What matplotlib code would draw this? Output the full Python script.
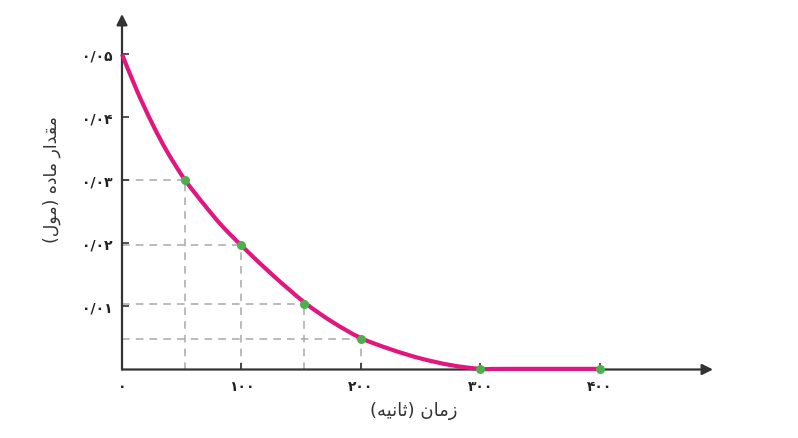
import matplotlib.pyplot as plt
from matplotlib.path import Path
from matplotlib.patches import PathPatch

# curve (time in s, amount in mol)
curve_t = [0, 12.6, 25.1, 37.7, 52.7, 69.5, 83.7, 100.4, 125.5, 153.1, 176.6, 200,
           225.1, 250.2, 275.3, 300, 320, 400]
curve_n = [0.05, 0.0442, 0.0391, 0.0346, 0.0301, 0.0260, 0.0228, 0.0196, 0.0151,
           0.0106, 0.0075, 0.0050, 0.0032, 0.00175, 0.0007, 0.0001, 0.0001, 0.0001]

# marked points
pt_t = [53, 100, 152.5, 200, 300, 400]
pt_n = [0.030, 0.0198, 0.0104, 0.0048, 0.0001, 0.0001]

# ticks
xticks = [0, 100, 200, 300, 400]
xtick_labels = ['۰', '۱۰۰', '۲۰۰', '۳۰۰', '۴۰۰']
yticks = [0.01, 0.02, 0.03, 0.04, 0.05]
ytick_labels = ['۰/۰۱', '۰/۰۲', '۰/۰۳', '۰/۰۴', '۰/۰۵']

# axis titles, already shaped and in visual order (matplotlib does no RTL shaping)
xlabel = '(\uFEEA\uFBFF\uFEE7\uFE8E\uFE9B) \uFEE5\uFE8E\uFEE3\uFEAF'   # زمان (ثانیه)
ylabel = ('(\uFEDD\uFEEE\uFEE3) \uFEE9\uFEA9\uFE8E\uFEE3 '
          '\uFEAD\uFE8D\uFEAA\uFED8\uFEE3')                          # مقدار ماده (مول)

xmax = 495
ymax = 0.0564
axis_col = '#333333'
magenta = '#e1167f'
green = '#4db04f'
dash_col = '#a8a8a8'


def smooth_path(xs, ys):
    # Catmull-Rom spline through the read points, drawn as cubic Bezier segments
    pts = list(zip(xs, ys))
    verts = [pts[0]]
    codes = [Path.MOVETO]
    n = len(pts)
    for i in range(n - 1):
        p0 = pts[i - 1] if i > 0 else pts[i]
        p1 = pts[i]
        p2 = pts[i + 1]
        p3 = pts[i + 2] if i + 2 < n else pts[i + 1]
        c1 = (p1[0] + (p2[0] - p0[0]) / 6, p1[1] + (p2[1] - p0[1]) / 6)
        c2 = (p2[0] - (p3[0] - p1[0]) / 6, p2[1] - (p3[1] - p1[1]) / 6)
        verts += [c1, c2, p2]
        codes += [Path.CURVE4] * 3
    return Path(verts, codes)


fig = plt.figure(figsize=(7.98, 4.39), dpi=100)
ax = fig.add_axes([122 / 798, 68.5 / 439, (713 - 122) / 798, (370.5 - 15) / 439])
ax.set_xlim(0, xmax)
ax.set_ylim(0, ymax)
for s in ax.spines.values():
    s.set_visible(False)

# dashed guide lines
for t, n in zip(pt_t[:4], pt_n[:4]):
    ax.plot([0, t], [n, n], color=dash_col, lw=1.1, ls=(0, (5, 4)), zorder=1)
    ax.plot([t, t], [0, n], color=dash_col, lw=1.1, ls=(0, (5, 4)), zorder=1)

# axes with arrow heads
arrow = dict(arrowstyle='-|>', color=axis_col, lw=1.6, mutation_scale=16,
             shrinkA=0, shrinkB=0)
ax.annotate('', xy=(xmax, 0), xytext=(0, 0), arrowprops=arrow, annotation_clip=False)
ax.annotate('', xy=(0, ymax), xytext=(0, 0), arrowprops=arrow, annotation_clip=False)

ax.add_patch(PathPatch(smooth_path(curve_t, curve_n), fill=False, edgecolor=magenta,
                       lw=3, joinstyle='round', capstyle='butt', zorder=3, clip_on=False))
ax.plot(pt_t, pt_n, 'o', color=green, ms=6.5, mec='none', zorder=4, clip_on=False)

ax.set_xticks(xticks)
ax.set_xticklabels(xtick_labels)
ax.set_yticks(yticks)
ax.set_yticklabels(ytick_labels)
ax.tick_params(axis='both', direction='in', length=5, width=1.2, color=axis_col,
               labelsize=10, labelcolor='#222222')
ax.tick_params(axis='x', pad=7)
ax.tick_params(axis='y', pad=7)
for lab in ax.get_xticklabels() + ax.get_yticklabels():
    lab.set_fontweight('bold')

fig.text(414 / 798, 1 - 411 / 439, xlabel, ha='center', va='center',
         fontsize=13, color='#333333')
fig.text(52 / 798, 1 - 180 / 439, ylabel, ha='center', va='center',
         rotation=90, fontsize=12.5, color='#333333')

fig.savefig('out.png', dpi=100)
